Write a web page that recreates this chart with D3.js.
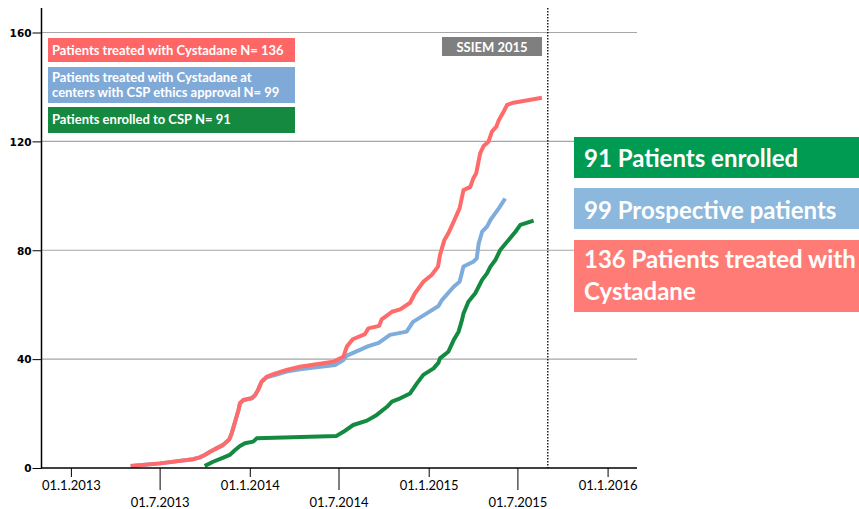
<!DOCTYPE html>
<html lang="en">
<head>
<meta charset="utf-8">
<title>CSP enrolment</title>
<script src="https://d3js.org/d3.v7.min.js"></script>
<style>
  body { margin: 0; background: #fff; }
  svg { display: block; }
  .xlab { font-family: Lato, "Open Sans", sans-serif; font-size: 13px; fill: #000; }
  .ylab { font-family: "DejaVu Sans", sans-serif; font-size: 10.5px; font-weight: bold; fill: #000; }
  .box text { font-family: Lato, "Open Sans", sans-serif; font-weight: bold; fill: #fff; }
</style>
</head>
<body>
<div id="chart"></div>
<script>
// cumulative patients
const treatedDates = ["2013-05-03","2013-07-02","2013-09-07","2013-09-21","2013-10-01","2013-10-12","2013-10-25","2013-11-07","2013-11-20","2013-11-25","2013-12-02","2013-12-09","2013-12-12","2013-12-19","2014-01-05","2014-01-12","2014-01-18","2014-01-25","2014-02-04","2014-02-18","2014-03-17","2014-04-13","2014-06-20","2014-07-11","2014-07-18","2014-07-30","2014-08-24","2014-08-31","2014-09-22","2014-09-27","2014-10-09","2014-10-18","2014-11-04","2014-11-24","2014-12-04","2014-12-21","2015-01-07","2015-01-20","2015-01-24","2015-02-02","2015-02-10","2015-02-21","2015-03-05","2015-03-13","2015-03-27","2015-04-02","2015-04-08","2015-04-16","2015-04-23","2015-05-03","2015-05-10","2015-05-19","2015-05-24","2015-06-01","2015-06-10","2015-06-23","2015-08-20"];
const treatedValues = [0.7,1.7,3.2,3.9,4.8,6,7.2,8.4,10.5,12.7,17,21.3,23.8,25,25.6,26.8,28.7,31.7,33.5,34.5,36,37.2,39,40.9,44.6,47.3,49.2,51.3,52.2,54.6,56.2,57.4,58.3,60.7,64.2,68.4,70.9,74,78.2,83.8,86.2,90.5,95.4,102.1,103.3,106.4,108.3,115.6,118.3,119.9,123.6,125.4,127.8,130.3,133.4,134.2,136];

const approvalDates = ["2013-05-03","2013-07-02","2013-09-07","2013-09-21","2013-10-01","2013-10-12","2013-10-25","2013-11-07","2013-11-20","2013-11-25","2013-12-02","2013-12-09","2013-12-12","2013-12-19","2014-01-05","2014-01-12","2014-01-18","2014-01-25","2014-02-04","2014-02-18","2014-03-17","2014-04-13","2014-06-24","2014-07-11","2014-07-18","2014-08-31","2014-09-21","2014-10-14","2014-11-17","2014-11-30","2014-12-28","2015-01-21","2015-01-28","2015-02-21","2015-03-05","2015-03-13","2015-04-02","2015-04-09","2015-04-13","2015-04-20","2015-04-30","2015-05-07","2015-05-13","2015-05-24","2015-06-06"];
const approvalValues = [0.7,1.7,3.2,3.9,4.8,6,7.2,8.4,10.5,12.7,17,21.3,23.8,25,25.6,26.8,28.7,31.7,33.2,34,35.4,36.3,37.8,39.7,41.3,44.8,46,48.9,50.1,53.7,56.8,59.5,61.7,66.6,68.4,74,75.8,77,82.5,86.8,88.7,91.1,92.6,95.4,99];

const enrolledDates = ["2013-10-01","2013-10-18","2013-11-08","2013-11-21","2013-12-02","2013-12-12","2013-12-22","2014-01-08","2014-01-15","2014-06-27","2014-07-11","2014-07-31","2014-08-28","2014-09-17","2014-10-08","2014-10-18","2014-11-04","2014-11-24","2014-12-08","2014-12-21","2015-01-11","2015-01-21","2015-01-24","2015-02-10","2015-02-21","2015-03-03","2015-03-10","2015-03-13","2015-03-23","2015-04-06","2015-04-20","2015-04-30","2015-05-07","2015-05-17","2015-05-27","2015-06-13","2015-06-27","2015-07-07","2015-08-03"];
const enrolledValues = [0.7,2.3,3.8,4.8,6.6,8.1,9.1,9.7,10.9,11.8,13.3,15.8,17.4,19.5,22.5,24.4,25.6,27.4,31.1,34.2,36.6,38.7,40.3,42.7,47,50.1,54.4,56.8,61.1,64.2,69.1,71.5,74,76.4,80.1,83.8,86.8,89.3,90.9];

const xTickDates = ["2013-01-01","2013-07-01","2014-01-01","2014-07-01","2015-01-01","2015-07-01","2016-01-01"];
const yTicks = [0, 40, 80, 120, 160];
const eventDate = "2015-09-01";

const legendLabels = [
  ["Patients treated with Cystadane N= 136"],
  ["Patients treated with Cystadane at", "centers with CSP ethics approval N= 99"],
  ["Patients enrolled to CSP N= 91"]
];
const sideLabels = [
  ["91 Patients enrolled"],
  ["99 Prospective patients"],
  ["136 Patients treated with", "Cystadane"]
];

const parse = d3.timeParse("%Y-%m-%d");
const fmt = d3.timeFormat("%d.%-m.%Y");

const width = 859, height = 509;
const svg = d3.select("#chart").append("svg")
  .attr("width", width).attr("height", height);

const x = d3.scaleTime()
  .domain([parse("2012-11-01"), parse("2016-03-01")])
  .range([41, 637]);
const y = d3.scaleLinear().domain([0, 160]).range([468, 32.5]);
const yTop = 8;

// gridlines
svg.append("g").selectAll("line")
  .data(yTicks.filter(d => d > 0))
  .join("line")
  .attr("x1", 41).attr("x2", 637)
  .attr("y1", d => y(d)).attr("y2", d => y(d))
  .attr("stroke", "#a6a6a6").attr("stroke-width", 1.2);

// event line
svg.append("line")
  .attr("x1", x(parse(eventDate))).attr("x2", x(parse(eventDate)))
  .attr("y1", yTop).attr("y2", y(0))
  .attr("stroke", "#000").attr("stroke-width", 1.3)
  .attr("stroke-dasharray", "1.5,1.5");

// series
const line = d3.line().x(d => x(d[0])).y(d => y(d[1]));
const series = [
  {dates: approvalDates, values: approvalValues, color: "#7eaddb"},
  {dates: treatedDates, values: treatedValues, color: "#ff6b6b"},
  {dates: enrolledDates, values: enrolledValues, color: "#148a41"}
];
svg.append("g").selectAll("path")
  .data(series)
  .join("path")
  .attr("d", s => line(s.dates.map((d, i) => [parse(d), s.values[i]])))
  .attr("fill", "none")
  .attr("stroke", s => s.color)
  .attr("stroke-width", 4)
  .attr("stroke-linejoin", "round");

// axes
const xAxis = svg.append("g")
  .attr("transform", `translate(0,${y(0)})`)
  .call(d3.axisBottom(x).tickValues(xTickDates.map(parse)).tickSize(9).tickFormat(fmt));
xAxis.select(".domain").remove();
xAxis.selectAll(".tick line").attr("stroke", "#000").attr("stroke-width", 1)
  .attr("y2", (d, i) => i % 2 ? 22 : 9);
xAxis.selectAll(".tick text").attr("class", "xlab")
  .attr("y", (d, i) => i % 2 ? 39 : 22).attr("dy", 0);
xAxis.append("line").attr("x1", 41).attr("x2", 637)
  .attr("stroke", "#000").attr("stroke-width", 1.5);

const yAxis = svg.append("g")
  .attr("transform", "translate(41.5,0)")
  .call(d3.axisLeft(y).tickValues(yTicks).tickSize(9).tickPadding(1));
yAxis.select(".domain").remove();
yAxis.selectAll(".tick line").attr("stroke", "#000");
yAxis.selectAll(".tick text").attr("class", "ylab").attr("dy", "0.36em");
yAxis.append("line").attr("y1", yTop).attr("y2", y(0))
  .attr("stroke", "#000").attr("stroke-width", 1.5);

// legend boxes
const legendBoxes = [
  {y: 38, h: 24, color: "#ff6666", base: [55]},
  {y: 67, h: 36, color: "#7faad8", base: [81.5, 96.5]},
  {y: 107, h: 26, color: "#15893f", base: [124]}
];
const lg = svg.append("g").attr("class", "box");
legendBoxes.forEach((b, i) => {
  lg.append("rect").attr("x", 48).attr("y", b.y).attr("width", 247).attr("height", b.h)
    .attr("fill", b.color);
  legendLabels[i].forEach((t, j) => {
    lg.append("text").attr("x", 52).attr("y", b.base[j]).attr("font-size", 13).text(t);
  });
});

// SSIEM label
const ss = svg.append("g").attr("class", "box");
ss.append("rect").attr("x", 442).attr("y", 37).attr("width", 100).attr("height", 19).attr("fill", "#7f7f7f");
ss.append("text").attr("x", 492).attr("y", 51.5).attr("text-anchor", "middle")
  .attr("font-size", 13).text("SSIEM 2015");

// side labels
const sideBoxes = [
  {y: 137, h: 41, color: "#009b52", base: [167]},
  {y: 188, h: 41, color: "#8bb8dc", base: [218.5]},
  {y: 240, h: 72, color: "#ff7c76", base: [268, 300]}
];
const sg = svg.append("g").attr("class", "box");
sideBoxes.forEach((b, i) => {
  sg.append("rect").attr("x", 574).attr("y", b.y).attr("width", 285).attr("height", b.h)
    .attr("fill", b.color);
  sideLabels[i].forEach((t, j) => {
    sg.append("text").attr("x", 584).attr("y", b.base[j]).attr("font-size", 24).text(t);
  });
});
</script>
</body>
</html>
